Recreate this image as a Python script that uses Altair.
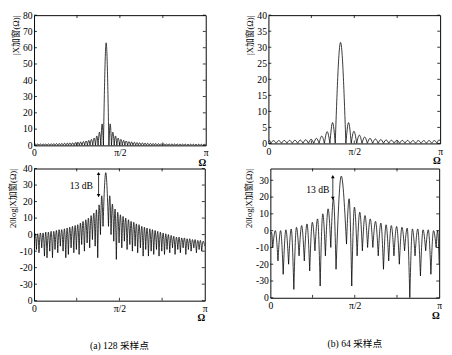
import altair as alt
import pandas as pd

FONT = "Liberation Serif, DejaVu Serif, Noto Sans CJK SC"

# ---------------- (b) 64 samples: lobe boundaries (Ω/π) ----------------
bounds64 = [0.0, 0.014, 0.045, 0.076, 0.108, 0.139, 0.170, 0.201, 0.233, 0.264,
            0.295, 0.326, 0.358, 0.389, 0.451, 0.482, 0.514, 0.545, 0.576, 0.607,
            0.639, 0.670, 0.701, 0.732, 0.764, 0.795, 0.826, 0.857, 0.889, 0.920,
            0.951, 0.982, 1.0]
lin_peak64 = [0.9, 0.9, 0.9, 0.95, 0.95, 1.0, 1.05, 1.15, 1.3, 1.6, 2.3, 3.7, 6.5,
              31.5,
              6.5, 3.8, 2.6, 2.0, 1.6, 1.4, 1.2, 1.1, 1.0, 1.0, 0.95, 0.95, 0.9,
              0.9, 0.9, 0.9, 0.9, 1.0]
lin_null64 = [0.5, 0, 0, 0, 0, 0, 0, 0, 0, 0, 0, 0, 0, 0, 0, 0, 0, 0, 0, 0, 0, 0,
              0, 0, 0, 0, 0, 0, 0, 0, 0, 0, 1.0]
db_peak64 = [-1, 0, 0, 0.5, 1, 2, 3, 4, 5, 7, 10, 13, 19,
             32.5,
             19, 14, 11, 9, 7, 5.5, 4.5, 3.5, 3, 2.5, 2, 1.5, 1, 1, 0.5, 0.5, 0, 0]
db_null64 = [-2, -10, -18, -26, -20, -35, -15, -18, -24, -12, -33, -15, -10, -23,
             -8, -33, -15, -12, -10, -10, -15, -23, -18, -15, -20, -12, -40, -15,
             -27, -12, -26, -10, -20]

# ---------------- (a) 128 samples ----------------
bounds128 = [0.0, 0.014, 0.029, 0.045, 0.061, 0.076, 0.092, 0.108, 0.123, 0.139,
             0.154, 0.170, 0.186, 0.201, 0.217, 0.233, 0.248, 0.264, 0.279, 0.295,
             0.311, 0.326, 0.342, 0.358, 0.373, 0.389, 0.404,
             0.436, 0.451, 0.467, 0.482, 0.498, 0.514, 0.529, 0.545, 0.561, 0.576,
             0.592, 0.607, 0.623, 0.639, 0.654, 0.670, 0.686, 0.701, 0.717, 0.732,
             0.748, 0.764, 0.779, 0.795, 0.811, 0.826, 0.842, 0.857, 0.873, 0.889,
             0.904, 0.920, 0.936, 0.951, 0.967, 0.982, 1.0]
lin_peak128 = [0.85, 0.85, 0.87, 0.9, 0.93, 0.97, 1.0, 1.05, 1.1, 1.15, 1.2, 1.3,
               1.4, 1.5, 1.6, 1.75, 1.9, 2.1, 2.4, 2.7, 3.1, 3.7, 4.5, 5.8, 8.1, 13.2,
               63,
               13.2, 8.1, 5.8, 4.5, 3.7, 3.1, 2.7, 2.4, 2.1, 1.9, 1.75, 1.6, 1.5, 1.4,
               1.3, 1.2, 1.15, 1.1, 1.05, 1.0, 0.97, 0.94, 0.91, 0.88, 0.85, 0.82,
               0.8, 0.78, 0.76, 0.74, 0.72, 0.7, 0.69, 0.68, 0.67, 0.67]
lin_null128 = [0.5] + [0] * 62 + [0.5]
db_peak128 = [0.5, 0.5, 1, 1, 1.5, 1.5, 2, 2, 2.5, 3, 3, 3.5, 4, 4.5, 5, 5.5, 6, 7,
              8, 9, 10, 11.5, 13, 15, 18, 23.5,
              37.5,
              23.5, 18.5, 15.5, 13.5, 12, 11, 10, 9, 8, 7.5, 6.5, 6, 5, 4.5, 4, 3.5,
              3, 2.5, 2, 1.5, 1, 0.5, 0, -0.5, -1, -1.5, -1.5, -2, -2, -2.5, -2.5,
              -3, -3, -3.5, -3.5, -4]
db_null128 = [-2, -9, -11, -8, -13, -14, -10, -14, -9, -11, -7, -10, -14, -12, -8,
              -11, -9, -12, -6, -10, -5, -8, -3, -7, -14, 0, 5,
              5, 0, -4, -15, -5, -8, -4, -9, -6, -10, -7, -11, -8, -13, -9, -13,
              -10, -12, -9, -13, -10, -12, -9, -11, -8, -12, -9, -11, -8, -12, -9,
              -10, -8, -11, -9, -10, -7]

for b, n, p in [(bounds64, lin_null64, lin_peak64), (bounds64, db_null64, db_peak64),
                (bounds128, lin_null128, lin_peak128), (bounds128, db_null128, db_peak128)]:
    assert len(b) == len(n) == len(p) + 1, (len(b), len(n), len(p))

x_tick_values = [0, 0.5, 1]
x_minor_ticks = [0.25, 0.5, 0.75]
captions = ["(a) 128 采样点", "(b) 64 采样点"]
ytitle_lin = "|X加窗(Ω)|"
ytitle_db = "20log|X加窗(Ω)|"

# 13 dB annotations: [x, y_top, y_bottom, text_x, text_y]
ann_a = [0.378, 37.0, 23.6, 0.345, 29.5]
ann_b = [0.37, 32.2, 19.2, 0.35, 24.4]
ann_text = "13 dB"


def lobes(bounds, nulls, peaks):
    rows = []
    for i in range(len(peaks)):
        a, b = bounds[i], bounds[i + 1]
        rows.append(dict(lobe=i, x=a, y=nulls[i]))
        rows.append(dict(lobe=i, x=(a + b) / 2, y=peaks[i]))
        rows.append(dict(lobe=i, x=b, y=nulls[i + 1]))
    return pd.DataFrame(rows)


X_SCALE = alt.Scale(domain=[0, 1], nice=False, zero=False)
X_AXIS = alt.Axis(values=x_tick_values,
                  labelExpr="datum.value == 0 ? '0' : (datum.value == 0.5 ? 'π/2' : 'π')",
                  title="Ω", titleAnchor="end", titleFontWeight="bold",
                  titleFontSize=10, titlePadding=0, labelPadding=3)


def panel(df, ydomain, yvalues, ytitle, w, h, label_expr, ann=None):
    ys = alt.Scale(domain=ydomain, nice=False, zero=False)
    ya = alt.Axis(values=yvalues, title=ytitle, titleAnchor="end", titleFontSize=9,
                  titleFontWeight="normal", titlePadding=2, labelPadding=2,
                  labelExpr=label_expr)

    def X(f):
        return alt.X(f, scale=X_SCALE, axis=X_AXIS)

    def Y(f):
        return alt.Y(f, scale=ys, axis=ya)

    line = alt.Chart(df).mark_line(interpolate="monotone", color="black",
                                   strokeWidth=0.8, clip=True).encode(
        x=X("x:Q"), y=Y("y:Q"), detail="lobe:N")
    layers = [line]
    # inward tick marks on the frame
    yt = alt.Chart(pd.DataFrame({"v": yvalues}))
    layers.append(yt.mark_rule(color="black", strokeWidth=0.8).encode(
        y=Y("v:Q"), x=alt.value(0), x2=alt.value(3)))
    layers.append(yt.mark_rule(color="black", strokeWidth=0.8).encode(
        y=Y("v:Q"), x=alt.value(w - 3), x2=alt.value(w)))
    xt = alt.Chart(pd.DataFrame({"v": x_minor_ticks}))
    layers.append(xt.mark_rule(color="black", strokeWidth=0.8).encode(
        x=X("v:Q"), y=alt.value(h - 3), y2=alt.value(h)))
    layers.append(xt.mark_rule(color="black", strokeWidth=0.8).encode(
        x=X("v:Q"), y=alt.value(0), y2=alt.value(3)))
    if ann is not None:
        d = pd.DataFrame([dict(x=ann[0], y1=ann[1], y2=ann[2], tx=ann[3], ty=ann[4],
                               t=ann_text)])
        base = alt.Chart(d)
        layers.append(base.mark_rule(color="black", strokeWidth=0.8).encode(
            x=X("x:Q"), y=Y("y1:Q"), y2="y2:Q"))
        layers.append(base.mark_point(shape="triangle-up", filled=True, color="black",
                                      size=14, opacity=1).encode(x=X("x:Q"), y=Y("y1:Q")))
        layers.append(base.mark_point(shape="triangle-down", filled=True, color="black",
                                      size=14, opacity=1).encode(x=X("x:Q"), y=Y("y2:Q")))
        layers.append(base.mark_text(align="right", baseline="middle", font=FONT,
                                     fontSize=10, color="black").encode(
            x=X("tx:Q"), y=Y("ty:Q"), text="t:N"))
    return alt.layer(*layers).properties(width=w, height=h)


plain = "'' + datum.value"
db_lbl = "datum.value == -40 ? '0' : '' + datum.value"

tl = panel(lobes(bounds128, lin_null128, lin_peak128), [0, 80], list(range(0, 81, 10)),
           ytitle_lin, 178, 135, plain)
tr = panel(lobes(bounds64, lin_null64, lin_peak64), [0, 40], list(range(0, 41, 5)),
           ytitle_lin, 178, 133, plain)
bl = panel(lobes(bounds128, db_null128, db_peak128), [-40, 40], list(range(-40, 41, 10)),
           ytitle_db, 177, 137, db_lbl, ann_a).properties(
    title=alt.TitleParams(captions[0], orient="bottom", fontSize=10, font=FONT,
                          fontWeight="normal", offset=19))
br = panel(lobes(bounds64, db_null64, db_peak64), [-40, 37], list(range(-40, 31, 10)),
           ytitle_db, 175, 134, db_lbl, ann_b).properties(
    title=alt.TitleParams(captions[1], orient="bottom", fontSize=10, font=FONT,
                          fontWeight="normal", offset=20))

chart = alt.vconcat(
    alt.hconcat(tl, tr, spacing=37),
    alt.hconcat(bl, br, spacing=37),
    spacing=-6,
).properties(
    padding={"left": 0, "top": -5, "right": 0, "bottom": 0}
).configure_view(
    stroke="black", strokeWidth=1
).configure_axis(
    labelFont=FONT, titleFont=FONT, labelFontSize=10, labelColor="black",
    titleColor="black", labelOverlap=False, labelFlush=False, ticks=False,
    domain=False, grid=False
).configure_title(font=FONT)

chart.save("out.html", embed_options={"renderer": "svg", "actions": False})
